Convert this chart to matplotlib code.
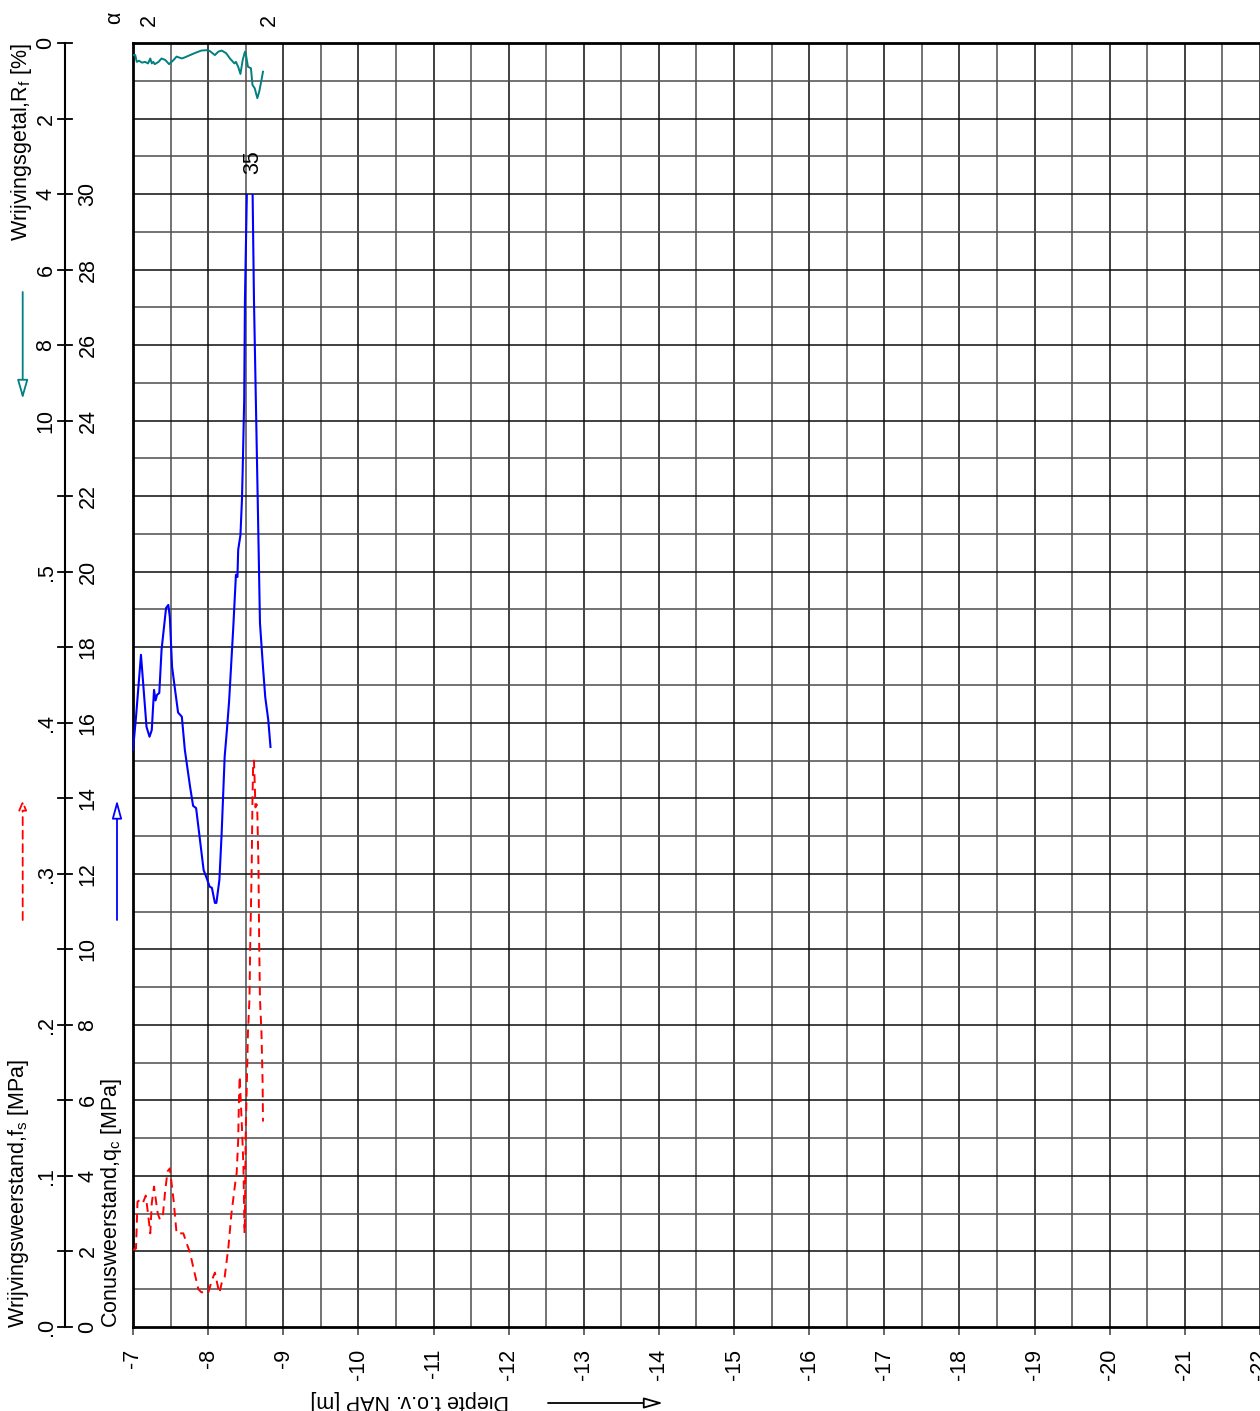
import numpy as np
import matplotlib
matplotlib.use('Agg')
import matplotlib.pyplot as plt
from matplotlib.transforms import blended_transform_factory
from matplotlib.patches import FancyArrowPatch, Rectangle

plt.rcParams['font.family'] = ['Liberation Sans', 'DejaVu Sans']
plt.rcParams['mathtext.default'] = 'regular'

W, H = 1260, 1411

# conusweerstand qc [MPa] versus diepte [m NAP]
depth_qc = [-7.00, -7.04, -7.106, -7.18, -7.22, -7.25, -7.28, -7.30, -7.32, -7.35,
            -7.38, -7.44, -7.47, -7.49, -7.52, -7.56, -7.60, -7.65, -7.69, -7.76,
            -7.80, -7.84, -7.94, -7.98, -8.02, -8.05, -8.09, -8.11, -8.15, -8.18,
            -8.22, -8.25, -8.28, -8.335, -8.37, -8.39, -8.40, -8.43, -8.45, -8.46,
            -8.48, -8.49, -8.56, -8.61, -8.66, -8.69, -8.73, -8.76, -8.80, -8.83]
qc = [15.28, 16.15, 17.80, 15.89, 15.63, 15.81, 16.87, 16.59, 16.74, 16.79,
      17.93, 19.04, 19.12, 18.80, 17.48, 16.87, 16.27, 16.16, 15.28, 14.30,
      13.80, 13.74, 12.10, 11.89, 11.66, 11.63, 11.23, 11.23, 11.84, 13.08,
      15.10, 15.81, 16.60, 18.54, 19.92, 19.86, 20.58, 20.97, 21.90, 22.70,
      24.55, 27.2, 35.0, 27.2, 21.90, 18.64, 17.48, 16.68, 16.08, 15.36]

# wrijvingsweerstand fs [MPa]
depth_fs = [-7.00, -7.04, -7.06, -7.09, -7.13, -7.17, -7.20, -7.23, -7.25, -7.28,
            -7.31, -7.33, -7.36, -7.40, -7.43, -7.46, -7.49, -7.54, -7.58, -7.63,
            -7.67, -7.71, -7.76, -7.80, -7.87, -7.91, -7.97, -8.00, -8.05, -8.09,
            -8.12, -8.15, -8.18, -8.22, -8.27, -8.31, -8.36, -8.38, -8.40, -8.41,
            -8.42, -8.45, -8.47, -8.48, -8.485, -8.49, -8.50, -8.52, -8.53, -8.55,
            -8.56, -8.58, -8.59, -8.60, -8.61, -8.62, -8.63, -8.645, -8.655, -8.67,
            -8.68, -8.69, -8.71, -8.725, -8.73]
fs = [0.051, 0.052, 0.083, 0.084, 0.082, 0.087, 0.075, 0.062, 0.082, 0.093,
      0.082, 0.075, 0.071, 0.075, 0.091, 0.103, 0.105, 0.084, 0.062, 0.062,
      0.062, 0.056, 0.049, 0.040, 0.025, 0.023, 0.023, 0.0225, 0.031, 0.036,
      0.029, 0.0225, 0.029, 0.033, 0.053, 0.075, 0.095, 0.102, 0.124, 0.150,
      0.166, 0.132, 0.106, 0.075, 0.062, 0.073, 0.128, 0.172, 0.195, 0.217,
      0.252, 0.305, 0.349, 0.374, 0.375, 0.360, 0.344, 0.346, 0.340, 0.305,
      0.252, 0.217, 0.195, 0.162, 0.136]

# wrijvingsgetal Rf [%]
depth_rf = [-7.00, -7.03, -7.05, -7.08, -7.12, -7.16, -7.20, -7.23, -7.25, -7.27,
            -7.29, -7.34, -7.38, -7.43, -7.48, -7.54, -7.58, -7.65, -7.69, -7.76,
            -7.83, -7.91, -7.98, -8.02, -8.09, -8.135, -8.18, -8.24, -8.29, -8.35,
            -8.37, -8.40, -8.43, -8.46, -8.49, -8.50, -8.53, -8.57, -8.59, -8.62,
            -8.655, -8.68, -8.71, -8.73]
rf = [0.32, 0.32, 0.50, 0.47, 0.52, 0.50, 0.54, 0.41, 0.54, 0.50,
      0.56, 0.50, 0.41, 0.45, 0.56, 0.45, 0.36, 0.41, 0.38, 0.32,
      0.26, 0.20, 0.19, 0.21, 0.32, 0.23, 0.20, 0.27, 0.41, 0.54,
      0.50, 0.63, 0.82, 0.45, 0.23, 0.27, 0.63, 0.67, 1.11, 1.20,
      1.46, 1.29, 0.98, 0.76]

qc_ticks = list(range(0, 31, 2))
fs_labels = ['.0', '.1', '.2', '.3', '.4', '.5']
rf_labels = ['0', '2', '4', '6', '8', '10']
depth_ticks = list(range(-7, -23, -1))

QC_MAX = 34
FS_SCALE = 40      # 0.1 MPa fs  <->  4 MPa qc
QC_CLIP = 30

teal = '#008080'
fsz = 15.5

fig = plt.figure(figsize=(W / 100, H / 100), dpi=100)
ax = fig.add_axes([133 / W, 1 - 1327 / H, 1 - 133 / W, (1327 - 43) / H])
ax.set_xlim(-7, -22)
ax.set_ylim(0, QC_MAX)

# raster
for d in np.arange(-7.5, -22.01, -0.5):
    ax.axvline(d, color='0.05' if d % 1 == 0 else '0.3', lw=1.1, zorder=1)
for q in range(1, QC_MAX):
    ax.axhline(q, color='0.05' if q % 2 == 0 else '0.3', lw=1.1, zorder=1)

line_qc, = ax.plot(depth_qc, qc, color='#0000ff', lw=1.5, zorder=3)
line_qc.set_clip_path(Rectangle((-22, 0), 15, QC_CLIP, transform=ax.transData))
ax.plot(depth_fs, np.array(fs) * FS_SCALE, color='#ff0000', lw=1.4,
        ls=(0, (4.5, 3)), zorder=3)
ax.plot(depth_rf, QC_MAX - np.array(rf), color=teal, lw=1.4, zorder=3)

ax.text(-8.59, QC_CLIP + 0.85, '35', rotation=90, ha='center', va='center', fontsize=fsz)

for s in ['left', 'bottom', 'top']:
    ax.spines[s].set_linewidth(2)
ax.spines['right'].set_visible(False)
ax.set_yticks([])
ax.set_xticks(depth_ticks)
ax.set_xticklabels([])
ax.tick_params(axis='x', length=6, width=1.2, direction='out', colors='0.3')

# linker schaal
bt = blended_transform_factory(fig.transFigure, ax.transData)
ax.plot([65 / W, 65 / W], [0, QC_MAX], transform=bt, clip_on=False, color='k', lw=1.5)
for q in range(0, QC_MAX + 1, 2):
    ax.plot([58 / W, 72 / W], [q, q], transform=bt, clip_on=False, color='k', lw=1.3)
for q in qc_ticks:
    ax.text(88 / W, q, str(q), transform=bt, rotation=90, ha='center', va='center', fontsize=fsz)
for i, lab in enumerate(fs_labels):
    ax.text(46 / W, i * 4, lab, transform=bt, rotation=90, ha='center', va='center', fontsize=fsz)
for i, lab in enumerate(rf_labels):
    ax.text(46 / W, QC_MAX - 2 * i, lab, transform=bt, rotation=90, ha='center', va='center', fontsize=fsz)

def fx(px):
    return px / W

def fy(py):
    return 1 - py / H

fig.text(fx(22), fy(43), 'Wrijvingsgetal,R$_f$ [%]', rotation=90, ha='center', va='top', fontsize=fsz)
fig.text(fx(19), fy(1328), 'Wrijvingsweerstand,f$_s$ [MPa]', rotation=90, ha='center', va='bottom', fontsize=fsz)
fig.text(fx(112), fy(1328), 'Conusweerstand,q$_c$ [MPa]', rotation=90, ha='center', va='bottom', fontsize=fsz)

fig.text(fx(115), fy(18), '\u03b1', rotation=90, ha='center', va='center', fontsize=fsz)
fig.text(fx(149), fy(20), '2', rotation=90, ha='center', va='center', fontsize=fsz)
fig.text(fx(269), fy(20), '2', rotation=90, ha='center', va='center', fontsize=fsz)

# dieptelabels
bx = blended_transform_factory(ax.transData, fig.transFigure)
for d in depth_ticks:
    ax.text(d, fy(1349), str(d), transform=bx, rotation=90, ha='center', va='top',
            fontsize=fsz, clip_on=False)
fig.text(fx(410), fy(1401), 'Diepte t.o.v. NAP [m]', rotation=180, ha='center', va='center', fontsize=fsz)

def arrow(x0, y0, x1, y1, color, ls='-', hl=11.5, hw=3.3):
    a = FancyArrowPatch((fx(x0), fy(y0)), (fx(x1), fy(y1)), transform=fig.transFigure,
                        arrowstyle='-|>,head_length=%g,head_width=%g' % (hl, hw),
                        mutation_scale=1, lw=1.3, ls=ls, ec=color, fc='white',
                        shrinkA=0, shrinkB=0)
    fig.patches.append(a)

arrow(548, 1403, 663, 1403, 'k')
arrow(22.7, 292, 22.7, 399, teal)
arrow(22.7, 920, 22.7, 800, '#ff0000', ls=(0, (4.5, 3)), hl=6, hw=2.5)
arrow(117, 920, 117, 800, '#0000ff', hl=11, hw=3)

fig.savefig('out.png', dpi=100)
